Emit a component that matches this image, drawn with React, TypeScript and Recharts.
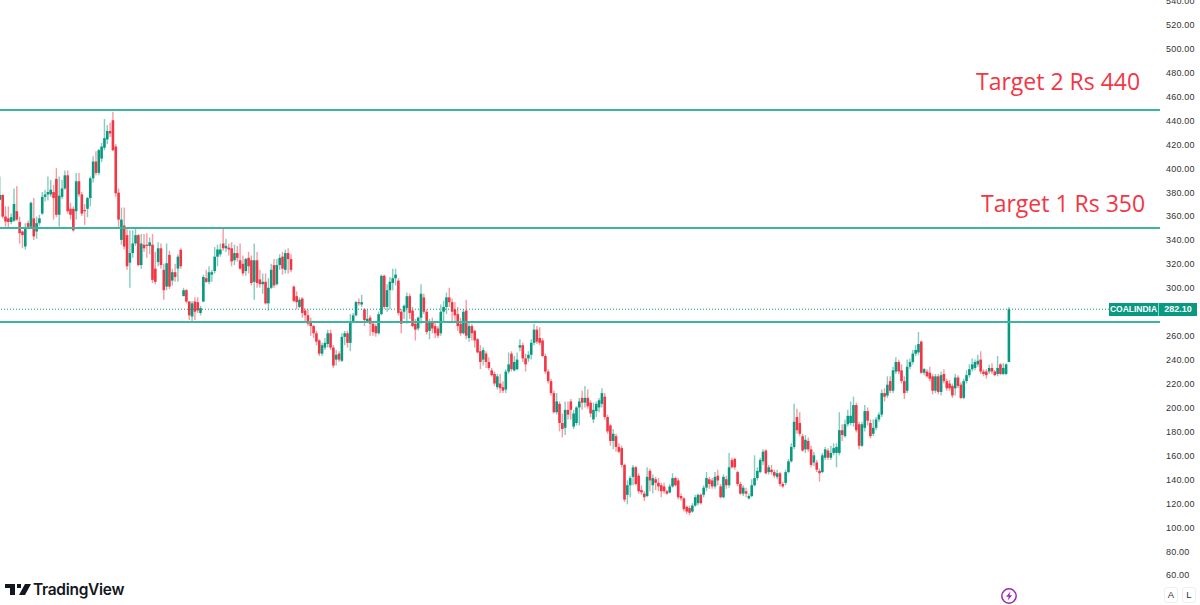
import { BarChart, Bar, XAxis, YAxis, ReferenceLine } from 'recharts';

const opens = [
  373.5,377.6,359.5,358,355,356,364,355,347,334.5,
  354,351,358,347,354,362,376,378,378,380,
  391,361,376,383,394,366,366,364,389,378,
  365,366,375,391.5,405.5,396,408,417,424,431,
  440,418,379.5,340,352,344,321,329,337,344,
  319,336,336,335,336,316,321.5,333,315,301,
  327.5,306,313,316,331.7,293,298,288.5,276,288.5,
  288,279,288.5,308,305,311,314,326,328,337,
  333,333.5,333,323,329,323,320,314,325,323,
  305,323,307,303,305,287,300,319,303,319,326,315,329,324,
  301,293,284,291,281,277,272,268,262,256,
  245,250,253,262,250,240,245,239,259,262,
  254,272,277,288,286,282,272,275,270,268,
  262,278,310,284,298,304,308,306,280,280,
  283,293,281,270,266,275,292,280,264,272,
  268,266,262,280,284,292,288,282,278,270,
  262,281,258,268,264,257,247,240,245,238,
  231,228,217,220,217,215,230,245,231,232,
  250,252,241,241,244,254,265,258,256,243,
  230,222,212,196,203,187,183,198,205,184,
  187,200,208,204,208,204,190,197,200,203,
  209,192,185,172,176,
  167,166,152,127,135,142,150,143,131,128,
  126,147,135,140,137,135,134,130,129,134,
  141,139,126,124,117,116,113,118,120,127,
  127,133,140,139,134,143,134,125,140,135,
  156,157,146,136,128,130,124,126,135,141,
  146,155,164,146,148,146,142,145,136,137,
  146,155,167,192,187,176,165,172,165,154,
  154,147,146,158,164,158,162,
  162,162,181,176,186,187,187,202,186,168,
  183,197,187,178,183,190,194,212,210,222,
  214,230,238,231,222,214,234,238,245,246,
  255,229,230,229,226,214,226,213,228,222,
  220,218,216,225,219,208,222,227,232,233,
  236,240,230,230,230,233,230,228,236,228,228,238
];
const highs = [
  393,378,368,368,362,383,385,359.5,348,354,
  356,372,375,359.5,361,380,382,393,390,386,
  400,393,390,398,398,371,368,396,396,380,
  370,376,393,410,414,416,421,441,436,438,
  447,420,383,367,367,349,348,348,350,345,
  345,345,345.6,342,345,330,338,337,320,337,
  331,316,320,328,333,300,299,289,289,292,
  292,285,311,315,318,315,334,336,337,349.7,
  341,337,338,336,335,337,327,325,330,327,
  337,330,315,312,312,308,320,324,324,328,330,332,333,328,
  302,297,292,292,283,282,275,269,264,257,
  254,258,265,265,252,248,247,262,264,264,
  278,279,289,291,294,283,282,277,272,270,
  280,311,311,303,309,316,316,308,282,286,
  296,295,284,274,276,303,295,282,274,275,
  271,268,286,289,296,300,291,288,284,275,
  282,290,271,270,265,258,252,250,247,242,
  233,230,228,228,222,232,246,247,243,246,
  257,254,245,247,257,270,268,267,258,245,
  232,224,214,212,205,195,205,205,207,198,
  201,208,214,218,215,206,204,205,208,216,
  212,194,186,182,178,
  170,168,153,139,143,152,151,145,135,130,
  150,149,144,142,141,137,137,131,136,145,
  142,141,128,125,118,118,120,127,128,128,
  135,146,142,141,146,148,136,144,143,162,
  158,158,147,138,135,133,128,140,160,150,
  158,165,165,152,152,148,148,146,138,148,
  157,170,203,199,196,178,177,175,168,163,
  156,149,162,167,166,168,170,
  170,196,186,190,198,205,209,204,188,188,
  202,200,190,190,192,196,215,216,226,226,
  234,242,240,236,226,240,241,248,252,263,
  256,233,232,234,228,228,228,230,232,224,
  223,220,228,227,221,224,231,236,241,240,
  244,247,232,232,236,237,231,243,237,237,237,284
];
const lows = [
  373,358,351,350,353,355,356,337,333,332,
  350,350,340,341,352,361,372,373,376,357,
  359,351,374,382,362,357,347,357,376,360,
  352.5,359,368,388,394,394,405,415,420,426,
  414,376,350,336,332,315,300,325,335,318,
  316,330,325,328,304,303,318,316,290,298,
  299,302,305,305,316,293,287,273,272,273,
  279,277,288,304,303,305,312,318,326,331,
  330,327,318,319,322,315,310,310,312,302,
  290,300,300,295,286,281,299,300,302,315,311,312,312,313,
  288,282,283,275,272,268,260,258,252,243,
  243,248,250,248,233,235,238,238,252,250,
  247,271,276,285,284,268,271,260,260,259,
  261,277,282,280,282,298,302,277,262,274,
  270,274,267,256,264,270,278,261,257,262,
  258,258,260,272,278,284,272,272,264,260,
  261,257,255,256,250,245,232,235,233,231,
  226,218,215,212,212,212,228,230,230,231,
  247,238,230,238,240,252,253,252,242,228,
  220,210,195,194,180,175,177,190,190,182,
  185,185,198,200,199,192,187,192,196,200,
  190,178,168,165,163,
  162,150,121,119,125,135,135,128,127,122,
  125,130,128,131,130,125,128,127,128,133,
  134,123,122,113,111,110,112,117,118,119,
  125,130,132,132,132,135,124,124,132,133,
  149,148,134,127,126,125,123,125,134,139,
  145,152,144,144,144,141,140,134,133,135,
  145,154,165,178,176,163,162,163,150,151,
  146,138,145,156,156,156,160,
  150,160,172,175,184,185,184,179,165,167,
  180,185,174,176,181,188,192,205,208,212,
  212,228,228,220,207,212,232,236,243,244,
  228,227,225,222,211,212,211,210,220,214,
  214,208,210,216,207,207,220,225,230,231,
  234,228,226,224,228,228,226,226,227,227,227,238
];
const closes = [
  377.6,359.5,355.3,355,359,370,357,345.6,344,350,
  351,371,343,354,358,376,378,380,382,375,
  361,377,383,394,364,361,348,389,378,362,
  364,375,391.5,405.5,396,415,418,425,431,429,
  415,379,357,357,334.5,318,329,337,344,319,
  337,333,335,338,306.6,305,333,319,298,320.5,
  301,313,309,326,318,298,288.5,277,287,280,
  281,283,309,305,313,313,326,332,332,333,
  335,332,322,329,325,316,312,324,318,304,
  323,304,303,305,287,300,315,302,319,325,316,329,324,315,
  289,288,290,279,277,270,268,262,255,245,
  252,254,262,250,235,244,240,259,262,254,
  272,277,288,287,288,273,274,270,263,262,
  278,310,284,298,305,308,311,279,270,285,
  293,279,268,265,275,295,280,263,272,266,
  262,260,280,284,292,288,280,277,268,262,
  280,260,268,262,256,246,238,248,238,233,
  227,220,226,216,214,230,236,232,238,240,
  252,241,236,244,254,265,255,254,243,230,
  222,212,196,205,187,182,198,194,198,195,
  200,205,204,208,201,195,198,203,206,212,
  192,180,172,178,167,
  163,152,123,135,141,150,136,130,129,125,
  142,139,141,137,134,130,130,128,134,141,
  135,125,124,115,113,112,118,125,127,120,
  133,141,136,134,142,139,125,142,135,150,
  150,150,136,128,133,128,126,135,141,147,
  156,163,145,150,146,143,145,136,134,146,
  155,167,188,181,178,164,173,165,152,160,
  148,145,160,165,158,162,166,
  167,181,177,186,193,193,202,181,168,186,
  197,189,176,183,190,194,212,209,219,214,
  231,238,230,222,212,234,238,245,248,253,
  229,232,226,224,214,226,213,227,222,216,
  216,210,225,218,208,222,227,232,236,238,
  239,230,228,227,233,230,227,233,228,233,236,282.1
];
const priceTicks = [60,80,100,120,140,160,180,200,220,240,260,300,320,340,360,380,400,420,440,460,480,500,520,540];
const levels = [448.6, 350, 271.4];

const candles = opens.map((open, i) => ({ i, open, high: highs[i], low: lows[i], close: closes[i] }));

const UP = '#089981';
const DOWN = '#F23645';
const LEVEL = '#3cb49e';

const Candle = (props: any) => {
  const { x, y, width, height, payload } = props;
  const { open, high, low, close } = payload;
  const cx = x + width / 2;
  const perUnit = height / (high - low);
  const top = y + (high - Math.max(open, close)) * perUnit;
  const bodyH = Math.max(Math.abs(close - open) * perUnit, 1.2);
  const color = close >= open ? UP : DOWN;
  return (
    <g>
      <line x1={cx} x2={cx} y1={y} y2={y + height} stroke={color} strokeOpacity={0.5} strokeWidth={1.4} />
      <rect x={cx - 1.3} y={top} width={2.6} height={bodyH} fill={color} />
    </g>
  );
};

const TickLabel = ({ y, payload }: any) => (
  <text x={1166} y={y + 3.5} fontSize={9} fontFamily="Liberation Sans" letterSpacing={0.2} fill="#333">
    {payload.value.toFixed(2)}
  </text>
);

const targetStyle = {
  position: 'absolute' as const,
  color: '#F23645',
  fontFamily: 'Open Sans',
  fontSize: 23,
  lineHeight: '30px',
  whiteSpace: 'nowrap' as const,
};

export default function App() {
  return (
    <div style={{ position: 'absolute', left: 0, top: 0, width: 1200, height: 605, background: '#fff', overflow: 'hidden' }}>
      <BarChart width={1200} height={605} data={candles} margin={{ top: 0, right: 0, bottom: 0, left: 0 }} barSize={3}>
        <XAxis dataKey="i" type="number" domain={[0, 410.4]} allowDataOverflow hide />
        <YAxis
          orientation="right"
          width={40}
          domain={[34.93, 540.48]}
          ticks={priceTicks}
          interval={0}
          axisLine={false}
          tickLine={false}
          tick={<TickLabel />}
          allowDataOverflow
        />
        {levels.map(v => (
          <ReferenceLine key={v} y={v} stroke={LEVEL} strokeWidth={2} />
        ))}
        <ReferenceLine y={282.1} stroke={UP} strokeWidth={1} strokeDasharray="1 2" />
        <Bar dataKey={(d: any) => [d.low, d.high]} shape={<Candle />} isAnimationActive={false} />
      </BarChart>

      <div style={{ ...targetStyle, left: 976, top: 66 }}>Target 2 Rs 440</div>
      <div style={{ ...targetStyle, left: 981, top: 188 }}>Target 1 Rs 350</div>

      <div style={{ position: 'absolute', left: 1109, top: 303, width: 88, height: 13, background: '#089981', color: '#fff', fontFamily: 'Liberation Sans', fontWeight: 700, fontSize: 8.5, lineHeight: '13px', display: 'flex' }}>
        <span style={{ width: 49, textAlign: 'center', borderRight: '1px solid #8fd3c6' }}>COALINDIA</span>
        <span style={{ flex: 1, textAlign: 'center', fontSize: 9 }}>282.10</span>
      </div>

      <svg width={30} height={20} style={{ position: 'absolute', left: 4, top: 581 }}>
        <path d="M1 3h10v11H6V7H1z M13 3h4v4h-4z M21 3h6l-6 11h-6z" fill="#131722" />
      </svg>
      <div style={{ position: 'absolute', left: 33, top: 579, fontFamily: 'Inter', fontWeight: 600, fontSize: 15.5, lineHeight: '22px', color: '#131722', letterSpacing: -0.3 }}>
        TradingView
      </div>

      <svg width={20} height={20} style={{ position: 'absolute', left: 999, top: 586 }}>
        <circle cx={10} cy={10} r={7.2} fill="none" stroke="#9c27b0" strokeWidth={1.5} />
        <path d="M11.5 5.5 7 10.8h2.8l-1.2 3.8 4.6-5.4h-2.8z" fill="#9c27b0" />
      </svg>

      {['A', 'L'].map((t, n) => (
        <div key={t} style={{ position: 'absolute', left: 1164 + n * 18, top: 587, width: 14, height: 16, border: '1px solid #eceef2', borderRadius: 3, boxSizing: 'border-box', textAlign: 'center', fontFamily: 'Liberation Sans', fontSize: 9.5, lineHeight: '14px', color: '#333' }}>
          {t}
        </div>
      ))}
    </div>
  );
}
